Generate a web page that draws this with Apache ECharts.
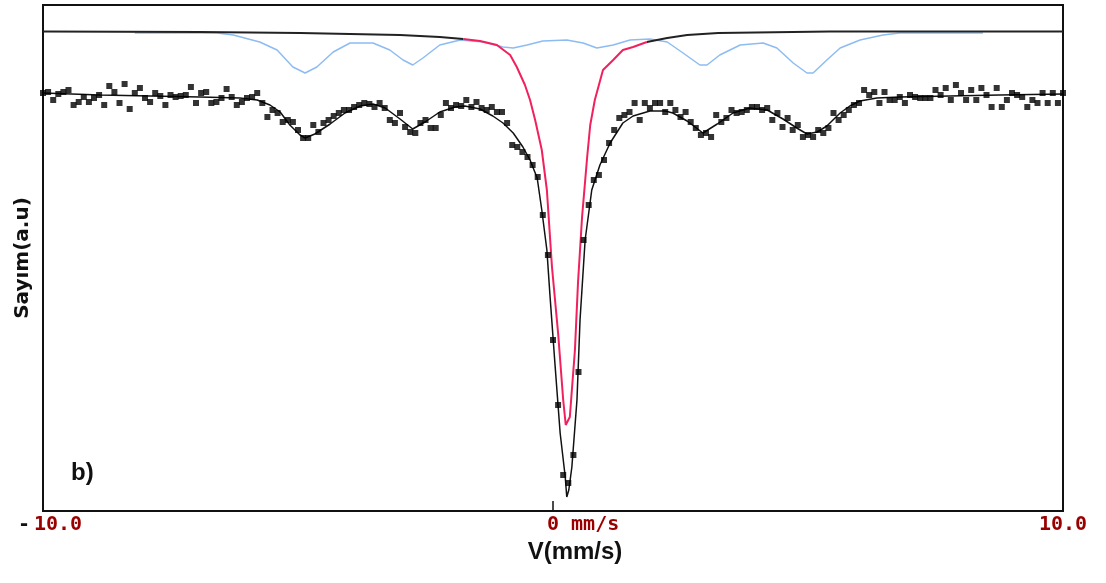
<!DOCTYPE html>
<html>
<head>
<meta charset="utf-8">
<script src="https://cdn.jsdelivr.net/npm/echarts@6/dist/echarts.min.js"></script>
<style>
  html, body { margin: 0; padding: 0; background: #fff; }
  #chart { width: 1106px; height: 583px; }
</style>
</head>
<body>
<div id="chart"></div>
<script>
// Mössbauer spectrum — measured counts, total fit, sextet and singlet components.

// channel velocities (mm/s)
const vStart = -10;
const vStep = 0.1;

// measured counts, one per channel (a.u.)
const counts = [
  83.6, 83.8, 82.2, 83.4, 83.8, 84.2, 81.2, 81.8, 82.8, 81.8,
  82.6, 83.2, 81.2, 85.0, 83.8, 81.6, 85.4, 80.4, 83.6, 84.6,
  82.6, 81.8, 83.6, 83.0, 81.2, 83.2, 82.8, 83.0, 83.2, 84.8,
  81.6, 83.6, 83.8, 81.6, 81.8, 82.6, 84.4, 82.8, 81.2, 81.8,
  82.6, 82.8, 83.6, 81.6, 78.8, 80.2, 79.6, 77.8, 78.2, 77.8,
  76.2, 74.6, 74.6, 77.2, 75.8, 77.6, 78.2, 79.0, 79.6, 80.2,
  80.2, 80.8, 81.2, 81.6, 81.4, 80.8, 81.6, 80.6, 78.2, 77.6,
  79.6, 76.8, 75.8, 75.6, 77.6, 78.2, 76.6, 76.6, 79.2, 81.6,
  80.6, 81.2, 81.0, 82.2, 80.8, 81.8, 80.6, 80.2, 80.8, 79.8,
  79.8, 77.6, 73.2, 72.8, 71.8, 70.8, 69.2, 66.8, 59.2, 51.2,
  34.2, 21.2, 7.2, 5.6, 11.2, 27.8, 54.2, 61.2, 66.2, 67.2,
  70.2, 73.6, 76.2, 78.6, 79.2, 79.8, 81.6, 78.2, 81.6, 80.6,
  81.6, 81.6, 79.8, 81.6, 80.2, 78.8, 79.8, 77.8, 76.6, 75.2,
  75.6, 74.8, 79.2, 77.8, 78.6, 80.2, 79.6, 79.8, 80.2, 80.8,
  80.8, 80.2, 80.6, 78.2, 79.6, 76.8, 78.6, 76.2, 77.2, 74.8,
  75.2, 74.8, 76.2, 75.6, 76.6, 79.6, 78.2, 79.2, 80.2, 81.2,
  81.6, 84.2, 83.2, 83.8, 81.6, 83.8, 82.2, 82.2, 82.8, 81.6,
  83.2, 82.8, 82.6, 82.6, 82.6, 84.2, 83.2, 84.6, 82.2, 85.2,
  83.6, 82.2, 84.2, 82.2, 84.6, 83.2, 80.8, 84.6, 80.8, 82.2,
  83.6, 83.2, 82.8, 80.8, 82.2, 81.6, 83.6, 81.6, 83.6, 81.6,
  83.6
];

// total fit
const fitVel = [
  -10, -8.88, -7.90, -6.92, -6.14, -5.80, -5.55, -5.35, -5.16, -4.96,
  -4.86, -4.67, -4.37, -4.08, -3.78, -3.53, -3.29, -3.00, -2.75, -2.51,
  -2.22, -1.92, -1.73, -1.43, -1.18, -0.98, -0.78, -0.59, -0.45, -0.31,
  -0.22, -0.12, -0.06, 0.04, 0.14, 0.24, 0.27, 0.31, 0.37, 0.47,
  0.53, 0.63, 0.76, 0.92, 1.12, 1.37, 1.57, 1.90, 2.20, 2.35,
  2.63, 2.94, 3.22, 3.53, 3.86, 4.20, 4.51, 4.78, 4.98, 5.18,
  5.37, 5.63, 5.82, 6.02, 6.35, 6.80, 7.78, 8.76, 10
];
const fitCounts = [
  83.6, 83.2, 83.0, 82.8, 82.6, 82.2, 81.2, 79.8, 77.2, 75.2,
  74.6, 75.4, 77.4, 79.6, 81.0, 81.4, 80.6, 78.4, 76.4, 77.8,
  79.8, 80.8, 81.0, 80.4, 79.0, 77.6, 75.6, 72.8, 70.2, 66.6,
  60.2, 52.2, 43.2, 29.2, 15.6, 6.8, 2.8, 4.2, 8.8, 22.2,
  38.2, 54.2, 64.2, 69.2, 73.6, 77.6, 79.0, 80.0, 80.0, 79.6,
  78.0, 75.6, 77.4, 79.6, 80.6, 80.2, 78.4, 76.6, 75.4, 75.8,
  77.0, 79.6, 81.0, 82.0, 82.6, 82.8, 83.0, 83.2, 83.4
];

// sextet component (shifted up)
const sextetVel = [
  -8.20, -6.59, -6.27, -5.75, -5.41, -5.10, -4.86, -4.63, -4.31, -3.98,
  -3.53, -3.20, -2.94, -2.75, -2.55, -2.22, -1.82, -1.37, -0.98, -0.78,
  -0.51, -0.20, 0.27, 0.59, 0.86, 1.18, 1.51, 1.90, 2.24, 2.55,
  2.88, 3.02, 3.27, 3.67, 4.12, 4.39, 4.71, 4.98, 5.10, 5.37,
  5.63, 6.02, 6.47, 6.80, 8.43
];
const sextetCounts = [
  95.6, 95.6, 95.2, 93.8, 92.2, 88.8, 87.6, 88.8, 91.8, 93.6,
  93.6, 92.2, 90.2, 89.2, 90.6, 93.2, 94.2, 93.8, 92.8, 92.6,
  93.2, 94.0, 94.2, 93.6, 92.6, 93.2, 94.2, 94.4, 93.8, 91.6,
  89.2, 89.2, 91.2, 93.2, 93.6, 92.6, 89.6, 87.6, 87.6, 90.2,
  92.6, 94.2, 95.2, 95.6, 95.6
];

// singlet component: wings (black) and core (red)
const wingLeftVel = [-10, -6.92, -4.96, -3.00, -2.22, -1.76];
const wingLeftCounts = [95.9, 95.8, 95.6, 95.2, 94.8, 94.4];
const singletVel = [
  -1.76, -1.43, -1.10, -0.84, -0.71, -0.55, -0.45, -0.35, -0.25, -0.22,
  -0.12, -0.02, 0.10, 0.20, 0.25, 0.33, 0.43, 0.49, 0.57, 0.67,
  0.73, 0.82, 0.98, 1.18, 1.37, 1.57, 1.84
];
const singletCounts = [
  94.4, 94.0, 93.2, 91.2, 88.8, 85.2, 82.2, 78.2, 73.6, 72.2,
  64.2, 48.8, 35.6, 22.2, 17.2, 18.8, 32.2, 45.6, 58.8, 70.8,
  77.2, 82.2, 88.2, 90.2, 92.2, 92.8, 93.8
];
const wingRightVel = [1.84, 2.24, 2.63, 3.24, 5.43, 10];
const wingRightCounts = [93.8, 94.6, 95.2, 95.6, 95.9, 95.9];

const zip = (xs, ys) => xs.map((x, i) => [x, ys[i]]);
const measured = counts.map((c, i) => [+(vStart + i * vStep).toFixed(2), c]);

const monoLabel = {
  fontFamily: 'DejaVu Sans Mono',
  fontWeight: 'bold',
  fontSize: 20
};

const line = (name, data, color, width) => ({
  name,
  type: 'line',
  data,
  showSymbol: false,
  smooth: false,
  lineStyle: { color, width },
  itemStyle: { color },
  z: 2
});

const chart = echarts.init(document.getElementById('chart'), null, { renderer: 'canvas' });
chart.setOption({
  animation: false,
  backgroundColor: '#fff',
  title: {
    text: 'b)',
    left: 66,
    top: 456,
    textStyle: { fontFamily: 'Liberation Sans', fontWeight: 'bold', fontSize: 24, color: '#111' }
  },
  grid: {
    left: 43, right: 43, top: 5, bottom: 72,
    show: true,
    borderColor: '#111',
    borderWidth: 2
  },
  xAxis: {
    type: 'value',
    min: -10,
    max: 10,
    interval: 10,
    name: 'V(mm/s)',
    nameLocation: 'middle',
    nameGap: 29,
    nameTextStyle: {
      fontFamily: 'Liberation Sans Narrow, Liberation Sans',
      fontWeight: 'bold',
      fontSize: 24,
      color: '#111',
      padding: [0, 0, 0, 44]
    },
    axisLine: { show: true, lineStyle: { color: '#111', width: 2 } },
    axisTick: { show: true, inside: true, length: 10, lineStyle: { color: '#111', width: 1.5 } },
    splitLine: { show: false },
    axisLabel: {
      margin: 4,
      showMinLabel: true,
      showMaxLabel: true,
      formatter: v => v === -10 ? '{k|-}{r|10.0}' : (v === 0 ? '{r|     0 mm/s}' : '{r|10.0}'),
      rich: {
        k: { ...monoLabel, color: '#111', padding: [0, 4, 0, 14] },
        r: { ...monoLabel, color: '#9b0000' }
      }
    }
  },
  yAxis: {
    type: 'value',
    min: 0,
    max: 101.2,
    name: 'Sayım(a.u)',
    nameLocation: 'middle',
    nameGap: 10,
    nameTextStyle: { fontFamily: 'DejaVu Sans', fontWeight: 'bold', fontSize: 20, color: '#111' },
    axisLine: { show: false, onZero: false },
    axisTick: { show: false },
    axisLabel: { show: false },
    splitLine: { show: false }
  },
  series: [
    line('sextet', zip(sextetVel, sextetCounts), '#8dbcf3', 1.5),
    line('singlet-left', zip(wingLeftVel, wingLeftCounts), '#222', 2),
    line('singlet-right', zip(wingRightVel, wingRightCounts), '#222', 2),
    line('singlet', zip(singletVel, singletCounts), '#f2205c', 2),
    { ...line('fit', zip(fitVel, fitCounts), '#111', 1.5), z: 3 },
    {
      name: 'measured',
      type: 'scatter',
      data: measured,
      symbol: 'rect',
      symbolSize: 6,
      itemStyle: { color: '#000' },
      z: 5
    }
  ]
});
</script>
</body>
</html>
